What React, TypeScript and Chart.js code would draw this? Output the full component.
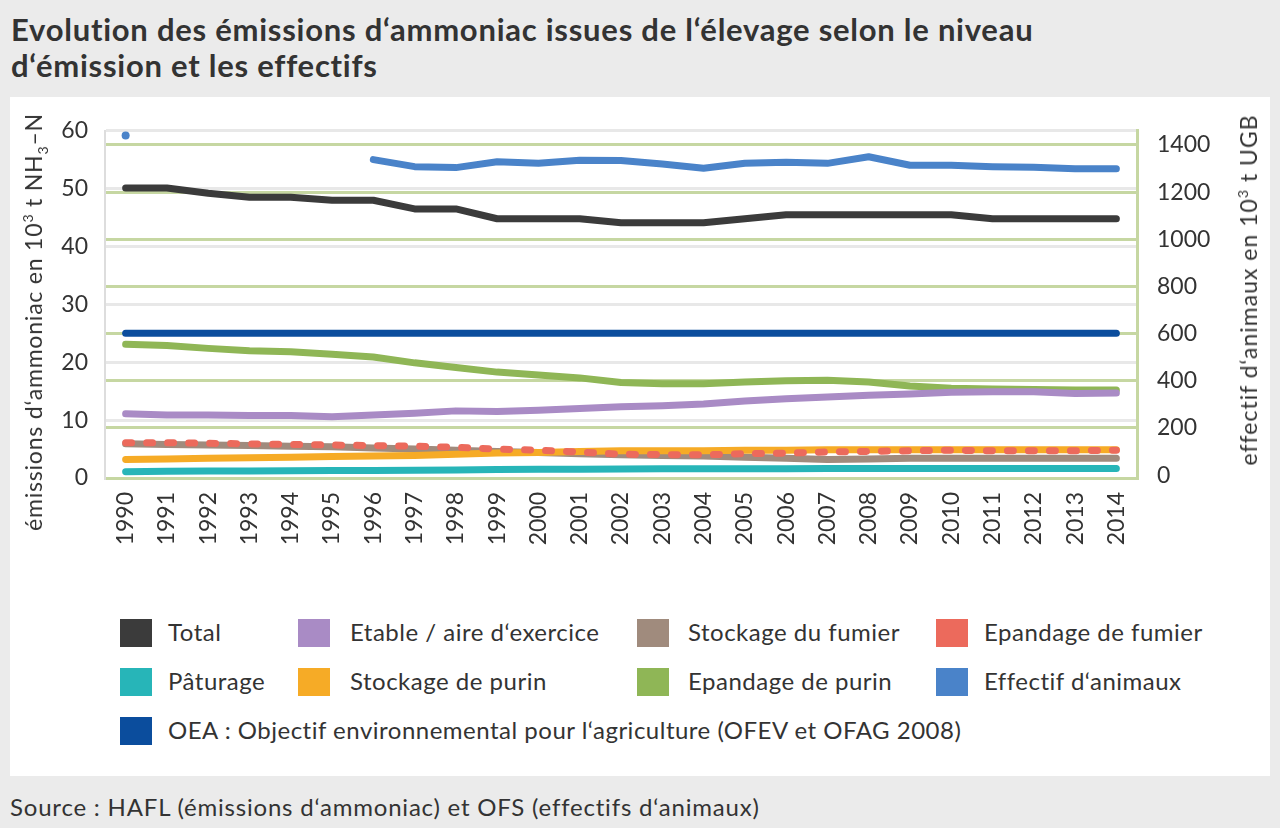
import React, { useEffect, useRef } from "react";
import { Chart, registerables } from "chart.js";

Chart.register(...registerables);

const YEARS = [
  "1990", "1991", "1992", "1993", "1994", "1995", "1996", "1997", "1998", "1999",
  "2000", "2001", "2002", "2003", "2004", "2005", "2006", "2007", "2008", "2009",
  "2010", "2011", "2012", "2013", "2014",
];

const TOTAL = [50.1, 50.1, 49.2, 48.5, 48.5, 48.0, 48.0, 46.5, 46.5, 44.8, 44.8, 44.8, 44.1, 44.1, 44.1, 44.8, 45.5, 45.5, 45.5, 45.5, 45.5, 44.8, 44.8, 44.8, 44.8];
const ETABLE = [11.1, 10.9, 10.9, 10.8, 10.8, 10.6, 10.9, 11.2, 11.6, 11.5, 11.7, 12.0, 12.3, 12.5, 12.8, 13.3, 13.7, 14.0, 14.3, 14.5, 14.8, 14.9, 14.9, 14.6, 14.7];
const STOCKAGE_FUMIER = [5.9, 5.8, 5.7, 5.6, 5.5, 5.4, 5.2, 5.0, 4.8, 4.6, 4.4, 4.2, 4.0, 3.9, 3.8, 3.6, 3.4, 3.2, 3.3, 3.4, 3.4, 3.4, 3.4, 3.4, 3.4];
const EPANDAGE_FUMIER = [6.1, 6.1, 6.0, 5.9, 5.8, 5.7, 5.6, 5.5, 5.3, 5.0, 4.8, 4.5, 4.1, 4.05, 4.0, 4.2, 4.3, 4.5, 4.6, 4.7, 4.8, 4.7, 4.7, 4.7, 4.8];
const PATURAGE = [1.1, 1.15, 1.2, 1.2, 1.25, 1.3, 1.3, 1.35, 1.4, 1.45, 1.5, 1.5, 1.55, 1.6, 1.6, 1.6, 1.6, 1.65, 1.65, 1.65, 1.65, 1.65, 1.65, 1.65, 1.65];
const STOCKAGE_PURIN = [3.2, 3.3, 3.4, 3.5, 3.6, 3.7, 3.8, 3.9, 4.1, 4.3, 4.4, 4.6, 4.7, 4.7, 4.7, 4.8, 4.8, 4.9, 4.9, 4.9, 4.9, 4.9, 4.9, 4.9, 4.9];
const EPANDAGE_PURIN = [23.1, 22.9, 22.4, 22.0, 21.8, 21.4, 20.9, 19.9, 19.1, 18.3, 17.8, 17.3, 16.5, 16.3, 16.3, 16.6, 16.8, 16.9, 16.6, 15.9, 15.5, 15.4, 15.3, 15.2, 15.2];
const EFFECTIF = [1440, null, null, null, null, null, 1338, 1308, 1304, 1329, 1322, 1335, 1334, 1319, 1301, 1322, 1327, 1322, 1350, 1314, 1314, 1308, 1305, 1299, 1299];
const OEA = [25, 25, 25, 25, 25, 25, 25, 25, 25, 25, 25, 25, 25, 25, 25, 25, 25, 25, 25, 25, 25, 25, 25, 25, 25];

const LEFT_TICKS = [0, 10, 20, 30, 40, 50, 60];
const RIGHT_TICKS = [0, 200, 400, 600, 800, 1000, 1200, 1400];

const LABEL_TOTAL = "Total";
const LABEL_ETABLE = "Etable / aire d‘exercice";
const LABEL_STOCK_FUM = "Stockage du fumier";
const LABEL_EPAND_FUM = "Epandage de fumier";
const LABEL_PATURAGE = "Pâturage";
const LABEL_STOCK_PUR = "Stockage de purin";
const LABEL_EPAND_PUR = "Epandage de purin";
const LABEL_EFFECTIF = "Effectif d‘animaux";
const LABEL_OEA = "OEA : Objectif environnemental pour l‘agriculture (OFEV et OFAG 2008)";

const TITLE_LINE_1 = "Evolution des émissions d‘ammoniac issues de l‘élevage selon le niveau";
const TITLE_LINE_2 = "d‘émission et les effectifs";
const SOURCE = "Source : HAFL (émissions d‘ammoniac) et OFS (effectifs d‘animaux)";

type Series = {
  label: string;
  data: (number | null)[];
  color: string;
  axis: "y" | "y1";
  order: number;
  dashed?: boolean;
};

const SERIES: Series[] = [
  { label: LABEL_TOTAL, data: TOTAL, color: "#3b3b3b", axis: "y", order: 6 },
  { label: LABEL_ETABLE, data: ETABLE, color: "#a98bc5", axis: "y", order: 3 },
  { label: LABEL_STOCK_FUM, data: STOCKAGE_FUMIER, color: "#a08b7d", axis: "y", order: 2 },
  { label: LABEL_EPAND_FUM, data: EPANDAGE_FUMIER, color: "#ec6a5c", axis: "y", order: 0, dashed: true },
  { label: LABEL_PATURAGE, data: PATURAGE, color: "#27b5b8", axis: "y", order: 5 },
  { label: LABEL_STOCK_PUR, data: STOCKAGE_PURIN, color: "#f6ab26", axis: "y", order: 1 },
  { label: LABEL_EPAND_PUR, data: EPANDAGE_PURIN, color: "#8fb656", axis: "y", order: 4 },
  { label: LABEL_EFFECTIF, data: EFFECTIF, color: "#4a83c9", axis: "y1", order: 7 },
  { label: LABEL_OEA, data: OEA, color: "#0b4d9d", axis: "y", order: 8 },
];

const GRAY_GRID = "#e8e8e8";
const GREEN_GRID = "#c6d7a2";
const TEXT = "#333333";
const FONT = "Lato, 'Open Sans', sans-serif";

const LEGEND_COLS = [120, 298, 637, 936];
const LEGEND_TEXT_OFFSET = [48, 52, 51, 48];
const LEGEND_ROWS = [633, 682, 731];

export default function App() {
  const canvasRef = useRef<HTMLCanvasElement | null>(null);

  useEffect(() => {
    const canvas = canvasRef.current;
    if (!canvas) return;
    const chart = new Chart(canvas, {
      type: "line",
      data: {
        labels: YEARS,
        datasets: SERIES.map((s) => ({
          label: s.label,
          data: s.data,
          yAxisID: s.axis,
          order: s.order,
          borderColor: s.color,
          backgroundColor: s.color,
          borderWidth: 7,
          borderCapStyle: "round" as const,
          borderJoinStyle: "round" as const,
          borderDash: s.dashed ? [6, 15] : [],
          tension: 0,
          fill: false,
          spanGaps: false,
          pointRadius: s.axis === "y1" ? (ctx: any) => (ctx.dataIndex === 0 ? 4 : 0) : 0,
          pointHoverRadius: 0,
          pointBorderWidth: 0,
        })),
      },
      options: {
        animation: false,
        responsive: false,
        devicePixelRatio: 1,
        layout: { padding: { top: 30, left: 0, right: 0, bottom: 0 } },
        plugins: {
          legend: { display: false },
          tooltip: { enabled: false },
          title: { display: false },
        },
        scales: {
          x: {
            type: "category",
            offset: true,
            grid: { display: false, drawTicks: false },
            border: { display: false },
            ticks: {
              autoSkip: false,
              maxRotation: 90,
              minRotation: 90,
              padding: 14,
              color: TEXT,
              font: { family: FONT, size: 23 },
            },
            afterFit: (s: any) => {
              s.height = 99;
            },
          },
          y: {
            type: "linear",
            position: "left",
            min: 0,
            max: 60,
            afterBuildTicks: (s: any) => {
              s.ticks = LEFT_TICKS.map((v) => ({ value: v }));
            },
            grid: {
              color: (ctx: any) => (ctx.tick && ctx.tick.value === 0 ? GREEN_GRID : GRAY_GRID),
              lineWidth: 3,
              drawTicks: false,
            },
            border: { display: true, color: "#dddddd", width: 2 },
            ticks: {
              padding: 17,
              color: TEXT,
              font: { family: FONT, size: 23 },
              callback: (v: any) => String(v),
            },
            afterFit: (s: any) => {
              s.width = 95;
            },
          },
          y1: {
            type: "linear",
            position: "right",
            min: -12,
            max: 1460,
            afterBuildTicks: (s: any) => {
              s.ticks = RIGHT_TICKS.map((v) => ({ value: v }));
            },
            grid: {
              color: (ctx: any) => (ctx.tick && ctx.tick.value === 0 ? "rgba(0,0,0,0)" : GREEN_GRID),
              lineWidth: 3,
              drawTicks: false,
              drawOnChartArea: true,
            },
            border: { display: true, color: GREEN_GRID, width: 3 },
            ticks: {
              padding: 20,
              color: TEXT,
              font: { family: FONT, size: 23 },
              callback: (v: any) => String(v),
            },
            afterFit: (s: any) => {
              s.width = 133;
            },
          },
        },
      },
    });
    return () => chart.destroy();
  }, []);

  const legendOrder = [
    [LABEL_TOTAL, LABEL_ETABLE, LABEL_STOCK_FUM, LABEL_EPAND_FUM],
    [LABEL_PATURAGE, LABEL_STOCK_PUR, LABEL_EPAND_PUR, LABEL_EFFECTIF],
    [LABEL_OEA],
  ];

  const supStyle = { fontSize: 14, lineHeight: 0 } as const;

  return (
    <div
      style={{
        position: "fixed",
        left: 0,
        top: 0,
        width: 1280,
        height: 828,
        background: "#ebebeb",
        fontFamily: FONT,
        color: TEXT,
        overflow: "hidden",
      }}
    >
      <div
        style={{
          position: "absolute",
          left: 11,
          top: 11,
          fontSize: 31,
          fontWeight: 700,
          lineHeight: "36px",
          letterSpacing: "0.75px",
          color: "#333",
          whiteSpace: "nowrap",
        }}
      >
        <div>{TITLE_LINE_1}</div>
        <div>{TITLE_LINE_2}</div>
      </div>
      <div
        style={{
          position: "absolute",
          left: 10,
          top: 97,
          width: 1260,
          height: 679,
          background: "#ffffff",
        }}
      />
      <canvas
        ref={canvasRef}
        width={1260}
        height={480}
        style={{ position: "absolute", left: 10, top: 97, width: 1260, height: 480 }}
      />
      <div
        style={{
          position: "absolute",
          left: 33,
          top: 322,
          transform: "translate(-50%, -50%) rotate(-90deg)",
          whiteSpace: "nowrap",
          fontSize: 23,
          letterSpacing: "0.8px",
          lineHeight: "26px",
        }}
      >
        émissions d‘ammoniac en 10<sup style={supStyle}>3</sup> t NH
        <sub style={supStyle}>3</sub>–N
      </div>
      <div
        style={{
          position: "absolute",
          left: 1248,
          top: 290,
          transform: "translate(-50%, -50%) rotate(-90deg)",
          whiteSpace: "nowrap",
          fontSize: 23,
          letterSpacing: "1px",
          lineHeight: "26px",
        }}
      >
        effectif d‘animaux en 10<sup style={supStyle}>3</sup> t UGB
      </div>
      {legendOrder.map((row, ri) =>
        row.map((label, ci) => {
          const s = SERIES.find((x) => x.label === label)!;
          return (
            <React.Fragment key={label}>
              <div
                style={{
                  position: "absolute",
                  left: LEGEND_COLS[ci],
                  top: LEGEND_ROWS[ri] - 14,
                  width: 32,
                  height: 28,
                  background: s.color,
                }}
              />
              <div
                style={{
                  position: "absolute",
                  left: LEGEND_COLS[ci] + LEGEND_TEXT_OFFSET[ci],
                  top: LEGEND_ROWS[ri] - 16,
                  fontSize: 24,
                  letterSpacing: "0.5px",
                  lineHeight: "30px",
                  whiteSpace: "nowrap",
                }}
              >
                {label}
              </div>
            </React.Fragment>
          );
        })
      )}
      <div
        style={{
          position: "absolute",
          left: 10,
          top: 792,
          fontSize: 24,
          letterSpacing: "0.8px",
          lineHeight: "30px",
          whiteSpace: "nowrap",
        }}
      >
        {SOURCE}
      </div>
    </div>
  );
}
